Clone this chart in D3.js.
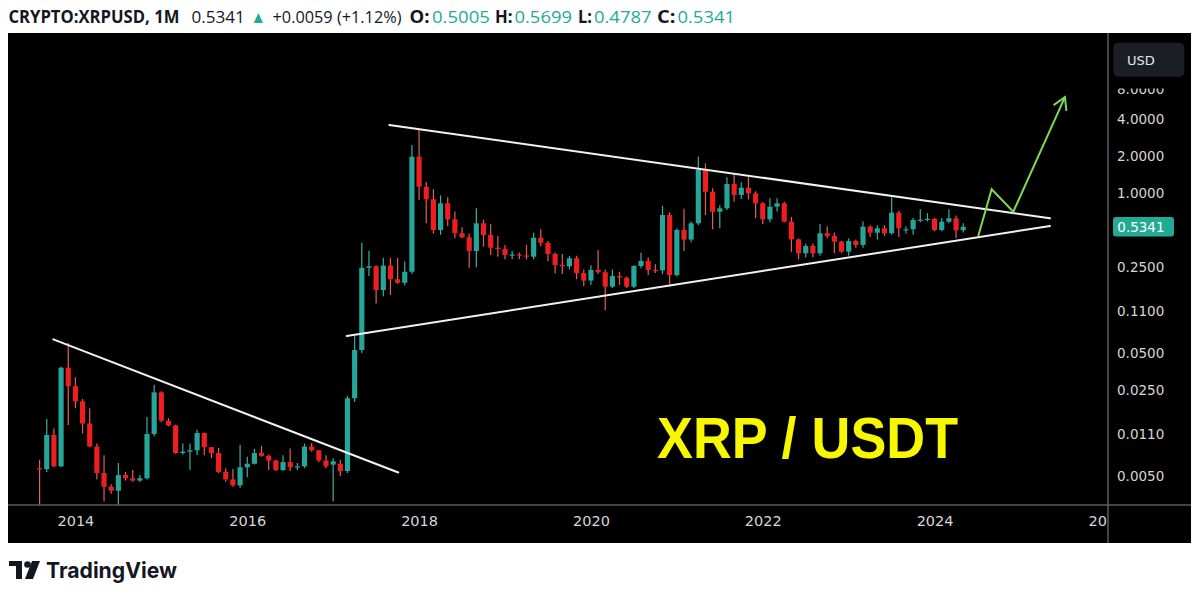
<!DOCTYPE html>
<html><head><meta charset="utf-8">
<script src="https://cdn.jsdelivr.net/npm/d3@7"></script>
<style>html,body{margin:0;padding:0;background:#fff;}svg{display:block}</style>
</head><body>
<svg id="c" width="1200" height="594"></svg>
<script>
// ---------- DATA (monthly candles, CRYPTO:XRPUSD) ----------
const firstMonth = [2013, 7]; // Aug 2013 (month index 0-based)
const open = [
 0.0058,0.0057,0.0108,0.0060,0.0381,
 0.0270,0.0203,0.0134,0.0087,0.0053,0.0041,0.0038,0.0051,0.0048,0.0046,0.0048,0.0110,
 0.0240,0.0141,0.0129,0.0077,0.0079,0.0081,0.0112,0.0086,0.0077,0.0054,0.0047,0.0042,
 0.0059,0.0063,0.0077,0.0073,0.0067,0.0056,0.0065,0.0059,0.0060,0.0087,0.0081,0.0067,
 0.0062,0.0063,0.0055,0.0215,0.0531,0.248,0.255,0.163,0.258,0.200,0.187,0.230,
 1.985,1.13,0.894,0.503,0.829,0.614,0.473,0.438,0.339,0.570,0.458,0.361,
 0.352,0.315,0.318,0.312,0.305,0.435,0.396,0.321,0.261,0.255,0.296,0.224,
 0.195,0.238,0.228,0.174,0.212,0.206,0.174,0.256,0.282,0.238,0.236,0.666,
 0.216,0.503,0.42,0.57,1.55,1.03,0.708,0.755,1.19,0.97,1.11,1.00,
 0.829,0.614,0.778,0.829,0.588,0.422,0.325,0.373,0.325,0.473,0.449,0.404,
 0.335,0.409,0.38,0.535,0.478,0.519,0.473,0.695,0.505,0.51,0.606,0.61,
 0.62,0.503,0.588,0.626,0.5005];
const high = [
 0.0068,0.0146,0.0122,0.0390,0.0609,
 0.0319,0.0212,0.0178,0.0092,0.0074,0.0043,0.0064,0.0054,0.0056,0.0051,0.0151,0.0277,
 0.0245,0.0148,0.0131,0.0092,0.0092,0.0119,0.0113,0.0086,0.0085,0.0058,0.0057,0.0090,
 0.0072,0.0083,0.0088,0.0075,0.0068,0.0074,0.0084,0.0064,0.0092,0.0093,0.0082,0.0074,
 0.0070,0.0068,0.0225,0.0690,0.396,0.341,0.26,0.299,0.297,0.297,0.278,2.47,
 3.27,1.24,1.08,0.96,0.93,0.71,0.53,0.47,0.755,0.61,0.56,0.45,
 0.38,0.34,0.33,0.38,0.478,0.51,0.41,0.33,0.32,0.31,0.31,0.24,
 0.26,0.346,0.24,0.24,0.23,0.21,0.26,0.328,0.30,0.265,0.793,0.70,
 0.52,0.75,0.59,1.99,1.75,1.10,0.80,1.35,1.41,1.23,1.37,1.04,
 0.85,0.91,0.91,0.855,0.64,0.43,0.39,0.39,0.563,0.54,0.48,0.41,
 0.43,0.42,0.59,0.55,0.55,0.55,0.93,0.72,0.54,0.63,0.74,0.69,
 0.63,0.63,0.74,0.66,0.5699];
const low = [
 0.0028,0.0054,0.0059,0.0059,0.0130,
 0.0178,0.0111,0.0086,0.0047,0.0031,0.0036,0.0028,0.0046,0.0045,0.0045,0.0047,0.0105,
 0.0138,0.0127,0.0076,0.0075,0.0056,0.0074,0.0074,0.0070,0.0053,0.0045,0.0041,0.0040,
 0.0049,0.0062,0.0072,0.0056,0.0055,0.0055,0.0055,0.0056,0.0058,0.0079,0.0065,0.0058,
 0.0031,0.0050,0.0053,0.0200,0.050,0.212,0.127,0.145,0.149,0.184,0.178,0.22,
 0.882,0.57,0.47,0.46,0.54,0.43,0.43,0.248,0.25,0.368,0.315,0.305,
 0.29,0.29,0.29,0.29,0.29,0.37,0.28,0.223,0.22,0.24,0.20,0.175,
 0.18,0.22,0.112,0.17,0.18,0.17,0.17,0.245,0.215,0.225,0.22,0.174,
 0.21,0.34,0.40,0.55,0.666,0.51,0.52,0.73,0.855,0.90,0.89,0.626,
 0.56,0.58,0.71,0.58,0.335,0.29,0.30,0.30,0.31,0.43,0.325,0.325,
 0.31,0.36,0.36,0.44,0.42,0.45,0.46,0.44,0.47,0.46,0.58,0.59,
 0.49,0.49,0.57,0.43,0.4787];
const close = [
 0.0057,0.0108,0.0060,0.0381,0.0270,
 0.0203,0.0134,0.0087,0.0053,0.0041,0.0038,0.0051,0.0048,0.0046,0.0048,0.0110,0.0240,
 0.0141,0.0129,0.0077,0.0079,0.0081,0.0112,0.0086,0.0077,0.0054,0.0047,0.0042,0.0059,
 0.0063,0.0077,0.0073,0.0067,0.0056,0.0065,0.0059,0.0060,0.0087,0.0081,0.0067,0.0060,
 0.0066,0.0055,0.0215,0.0531,0.248,0.255,0.163,0.258,0.200,0.187,0.230,1.985,
 1.13,0.894,0.503,0.829,0.614,0.473,0.438,0.339,0.570,0.458,0.361,0.352,
 0.315,0.318,0.312,0.305,0.435,0.396,0.321,0.261,0.255,0.296,0.224,0.195,
 0.238,0.228,0.174,0.212,0.206,0.174,0.256,0.282,0.238,0.236,0.666,0.216,
 0.503,0.42,0.57,1.55,1.03,0.708,0.755,1.19,0.97,1.11,1.00,0.829,
 0.614,0.778,0.829,0.588,0.422,0.325,0.373,0.325,0.473,0.449,0.404,0.335,
 0.409,0.38,0.535,0.478,0.519,0.473,0.695,0.519,0.51,0.606,0.61,0.62,
 0.503,0.588,0.626,0.50,0.5341];

const priceTicks = [8, 4, 2, 1, 0.25, 0.11, 0.05, 0.025, 0.011, 0.005];
const yearTicks = [2014, 2016, 2018, 2020, 2022, 2024, 2026];
const lastPrice = 0.5341;

// drawn trend lines, in (decimal year, price)
const downTrend2014 = [[2013.743, 0.0648], [2017.758, 0.00535]];
const triangleTop   = [[2017.653, 3.595], [2025.343, 0.626]];
const triangleBase  = [[2017.158, 0.0690], [2025.343, 0.542]];
const projectionPath = [[2024.508, 0.449], [2024.664, 1.078], [2024.916, 0.708], [2025.517, 6.07]];

const headerParts = [
  {t:"CRYPTO:XRPUSD, 1M", x:8.4, w:171, b:true, c:"#131722"},
  {t:"0.5341", x:191.4, w:53.5, b:false, c:"#131722"},
  {t:"\u25B2", x:250.5, w:15.5, b:false, c:"#22ab94"},
  {t:"+0.0059 (+1.12%)", x:272.5, w:129, b:false, c:"#131722"},
  {t:"O:", x:409.5, w:20, b:true, c:"#131722"},
  {t:"0.5005", x:432, w:58, b:false, c:"#22ab94"},
  {t:"H:", x:495, w:17.5, b:true, c:"#131722"},
  {t:"0.5699", x:514.5, w:57.5, b:false, c:"#22ab94"},
  {t:"L:", x:578, w:14, b:true, c:"#131722"},
  {t:"0.4787", x:594, w:57.5, b:false, c:"#22ab94"},
  {t:"C:", x:657, w:18.5, b:true, c:"#131722"},
  {t:"0.5341", x:677.5, w:57.5, b:false, c:"#22ab94"}
];

// ---------- LAYOUT ----------
const svg = d3.select("#c");
const plot = {left: 8, right: 1108, top: 33, bottom: 505};
const frame = {left: 8, right: 1191, top: 33, bottom: 543};

const candles = open.map((o, i) => {
  const mIdx = firstMonth[1] + i;
  const yr = firstMonth[0] + Math.floor(mIdx / 12);
  const m = mIdx % 12;
  return {t: yr + m / 12, o, h: high[i], l: low[i], c: close[i]};
});

const x = d3.scaleLinear().domain([2014, 2024]).range([75.4, 934.6]);
const y = d3.scaleLog().domain([0.005, 4]).range([476.1, 119.3]);

const UP = "#26a69a", DOWN = "#f01e1e", UPW = "#3fae9f", DOWNW = "#e0605e";

// frame
svg.append("rect").attr("x", frame.left).attr("y", frame.top)
  .attr("width", frame.right - frame.left).attr("height", frame.bottom - frame.top).attr("fill", "#000");

const defs = svg.append("defs");
defs.append("clipPath").attr("id", "plotclip").append("rect")
  .attr("x", plot.left).attr("y", plot.top).attr("width", plot.right - plot.left).attr("height", plot.bottom - plot.top);

const g = svg.append("g").attr("clip-path", "url(#plotclip)");

const step = x(2014 + 1/12) - x(2014);
const bw = step * 0.72;

const cg = g.append("g");
cg.selectAll("line.wick").data(candles).join("line")
  .attr("x1", d => x(d.t)).attr("x2", d => x(d.t))
  .attr("y1", d => y(d.h)).attr("y2", d => y(d.l))
  .attr("stroke", d => d.c >= d.o ? UPW : DOWNW).attr("stroke-width", 1.2);
cg.selectAll("rect.body").data(candles).join("rect")
  .attr("x", d => x(d.t) - bw / 2).attr("width", bw)
  .attr("y", d => y(Math.max(d.o, d.c)))
  .attr("height", d => Math.max(1.2, Math.abs(y(d.o) - y(d.c))))
  .attr("fill", d => d.c >= d.o ? UP : DOWN);

// trend lines
const line = d3.line().x(d => x(d[0])).y(d => y(d[1]));
[downTrend2014, triangleTop, triangleBase].forEach(p => {
  g.append("path").attr("d", line(p)).attr("fill", "none")
    .attr("stroke", "#f2f2f2").attr("stroke-width", 2).attr("stroke-linecap", "round");
});

// projection arrow
defs.append("marker").attr("id", "arr").attr("markerUnits", "userSpaceOnUse")
  .attr("viewBox", "-14 -9 16 18").attr("refX", 0).attr("refY", 0)
  .attr("markerWidth", 16).attr("markerHeight", 18).attr("orient", "auto")
  .append("path").attr("d", "M-12,-7 L0,0 L-12,7").attr("fill", "none")
  .attr("stroke", "#7ed957").attr("stroke-width", 2);
g.append("path").attr("d", line(projectionPath)).attr("fill", "none")
  .attr("stroke", "#7ed957").attr("stroke-width", 2).attr("stroke-linejoin", "miter")
  .attr("marker-end", "url(#arr)");

// separator lines
svg.append("line").attr("x1", frame.left).attr("x2", frame.right).attr("y1", plot.bottom).attr("y2", plot.bottom)
  .attr("stroke", "#5a5a5a").attr("stroke-width", 1.5);
svg.append("line").attr("x1", plot.right).attr("x2", plot.right).attr("y1", frame.top).attr("y2", frame.bottom)
  .attr("stroke", "#5a5a5a").attr("stroke-width", 1.5);

// x axis
defs.append("clipPath").attr("id", "xclip").append("rect")
  .attr("x", frame.left).attr("y", plot.bottom).attr("width", plot.right - frame.left).attr("height", frame.bottom - plot.bottom);
const xa = svg.append("g").attr("clip-path", "url(#xclip)").append("g")
  .attr("transform", `translate(0,${plot.bottom})`)
  .call(d3.axisBottom(x).tickValues(yearTicks).tickFormat(d3.format("d")).tickSize(0).tickPadding(11));
xa.select(".domain").remove();
xa.selectAll("text").attr("fill", "#d6d6d6").style("font-family", "DejaVu Sans, sans-serif").style("font-size", "14.5px");

// y axis
const ya = svg.append("g").attr("transform", `translate(${plot.right},0)`)
  .call(d3.axisRight(y).tickValues(priceTicks).tickFormat(d3.format(".4f")).tickSize(0).tickPadding(9));
ya.select(".domain").remove();
ya.selectAll("text").attr("fill", "#d6d6d6").style("font-family", "DejaVu Sans, sans-serif").style("font-size", "13.5px");
// the topmost label sits partly under the scale's button overlay
ya.selectAll(".tick").filter(d => d === 8).select("text").attr("dy", "0.85em");
svg.append("rect").attr("x", plot.right + 1).attr("y", 76).attr("width", frame.right - plot.right - 1).attr("height", 12.5)
  .attr("fill", "#000");

// USD box
svg.append("rect").attr("x", 1113.3).attr("y", 42.7).attr("width", 71).attr("height", 34).attr("rx", 5)
  .attr("fill", "#1b1e25");
svg.append("text").attr("x", 1127).attr("y", 64.5).text("USD").attr("fill", "#e6e6e6")
  .style("font-family", "DejaVu Sans, sans-serif").style("font-size", "13px");

// last price label
const py = y(lastPrice);
svg.append("rect").attr("x", 1113).attr("y", py - 9.8).attr("width", 61).attr("height", 19.6).attr("rx", 3)
  .attr("fill", "#22ab94");
svg.append("text").attr("x", 1117.3).attr("y", py).attr("dy", "0.36em").text(d3.format(".4f")(lastPrice))
  .attr("fill", "#fff").style("font-family", "DejaVu Sans, sans-serif").style("font-size", "13.5px");

// Big annotation
svg.append("text").attr("x", 657).attr("y", 458).text("XRP / USDT")
  .attr("fill", "#f7f700").attr("textLength", 301).attr("lengthAdjust", "spacingAndGlyphs")
  .style("font-family", "Liberation Sans, Arial, sans-serif").style("font-weight", "bold").style("font-size", "58px");

// header
const hdr = svg.append("g");
headerParts.forEach(p => {
  hdr.append("text").attr("x", p.x).attr("y", 23).text(p.t).attr("fill", p.c)
    .attr("textLength", p.w).attr("lengthAdjust", "spacingAndGlyphs")
    .style("font-family", "Open Sans, sans-serif").style("font-weight", p.b ? 700 : 400)
    .style("font-size", "17px");
});

// TradingView logo
const logo = svg.append("g").attr("fill", "#131722");
logo.append("path").attr("d", "M9,561 H22 V579 H16 V566 H9 Z");
logo.append("circle").attr("cx", 27.5).attr("cy", 564.5).attr("r", 3.3);
logo.append("path").attr("d", "M32,561 H40 L33,579 H25 Z");
svg.append("text").attr("x", 46).attr("y", 578).text("TradingView").attr("fill", "#131722")
  .attr("textLength", 131).attr("lengthAdjust", "spacingAndGlyphs")
  .style("font-family", "Inter, Roboto, sans-serif").style("font-weight", 700).style("font-size", "22px");
</script>
</body></html>
